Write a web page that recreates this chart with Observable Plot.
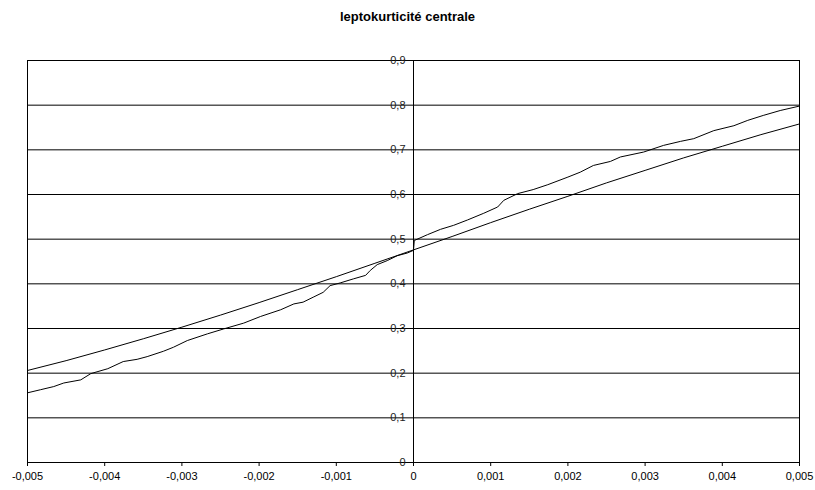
<!DOCTYPE html>
<html>
<head>
<meta charset="utf-8">
<script src="https://cdn.jsdelivr.net/npm/d3@7"></script>
<script src="https://cdn.jsdelivr.net/npm/@observablehq/plot@0.6"></script>
<style>
  body { margin: 0; background: #fff; font-family: "Liberation Sans", Arial, sans-serif; }
  #title { height: 40px; line-height: 34px; text-align: center; font-weight: bold; font-size: 13px; color: #000; }
</style>
</head>
<body>
<div id="title">leptokurticité centrale</div>
<div id="chart"></div>
<script>
// Fitted normal distribution function (smooth curve)
const normX = [-0.005, -0.0045, -0.004, -0.0035, -0.003, -0.0025, -0.002, -0.0015, -0.001, -0.0005,
  0, 0.0005, 0.001, 0.0015, 0.002, 0.0025, 0.003, 0.0035, 0.004, 0.0045, 0.005];
const normY = [0.206, 0.228, 0.252, 0.277, 0.303, 0.330, 0.358, 0.387, 0.416, 0.446,
  0.476, 0.506, 0.537, 0.567, 0.596, 0.626, 0.654, 0.682, 0.708, 0.734, 0.758];

// Empirical distribution function (jagged curve)
const empX = [-0.005, -0.00483, -0.00466, -0.00453, -0.00431, -0.00418, -0.00396, -0.00376, -0.00358, -0.00345,
  -0.00324, -0.00311, -0.00293, -0.00267, -0.00246, -0.0022, -0.00198, -0.00172, -0.00155, -0.00143,
  -0.0013, -0.00117, -0.00108, -0.00095, -0.00078, -0.00062, -0.00056, -0.00047, -0.00034, -0.00021,
  -0.00008, 0, 0.00001, 0.00018, 0.00035, 0.00052, 0.0007, 0.00091, 0.00109, 0.00117,
  0.00135, 0.00155, 0.00174, 0.002, 0.00216, 0.00233, 0.00255, 0.00268, 0.00298, 0.00324,
  0.00346, 0.00363, 0.00389, 0.00415, 0.00433, 0.00453, 0.00475, 0.005];
const empY = [0.156, 0.163, 0.170, 0.178, 0.185, 0.199, 0.210, 0.226, 0.231, 0.237,
  0.249, 0.258, 0.273, 0.288, 0.299, 0.312, 0.327, 0.342, 0.355, 0.359,
  0.370, 0.381, 0.396, 0.402, 0.411, 0.419, 0.430, 0.443, 0.452, 0.463,
  0.469, 0.475, 0.497, 0.510, 0.522, 0.531, 0.543, 0.558, 0.572, 0.587,
  0.602, 0.611, 0.622, 0.639, 0.650, 0.665, 0.674, 0.684, 0.695, 0.710,
  0.719, 0.725, 0.743, 0.754, 0.766, 0.777, 0.788, 0.798];

const yTicks = [0, 0.1, 0.2, 0.3, 0.4, 0.5, 0.6, 0.7, 0.8, 0.9];
const xTicks = [-0.005, -0.004, -0.003, -0.002, -0.001, 0, 0.001, 0.002, 0.003, 0.004, 0.005];

const norm = normX.map((x, i) => ({x, y: normY[i]}));
const emp = empX.map((x, i) => ({x, y: empY[i]}));

// Comma decimal separator and ASCII hyphen for negatives
const fr = d3.formatLocale({decimal: ",", thousands: " ", grouping: [3], currency: ["", " €"], minus: "-"});
const fmt = d => d === 0 ? "0" : fr.format("~g")(+d.toFixed(4));

const chart = Plot.plot({
  width: 815,
  height: 450,
  marginTop: 20,
  marginBottom: 28,
  marginLeft: 27,
  marginRight: 16,
  style: {fontFamily: "'Liberation Sans', Arial, sans-serif", fontSize: "11px", color: "#000", background: "#fff"},
  x: {domain: [-0.005, 0.005], ticks: xTicks, tickFormat: fmt, label: null},
  y: {domain: [0, 0.9], axis: null},
  marks: [
    Plot.ruleY(yTicks, {stroke: "#000", strokeWidth: 1}),
    Plot.frame({stroke: "#000"}),
    Plot.ruleX([0], {stroke: "#000"}),
    Plot.text(yTicks, {x: 0, y: d => d, text: d => fmt(d), textAnchor: "end", dx: -8, fill: "#222", fontSize: 11}),
    Plot.axisX({ticks: xTicks, tickFormat: fmt, tickSize: 4, tickPadding: 6, fontSize: 11, stroke: "#000", label: null}),
    Plot.line(norm, {x: "x", y: "y", stroke: "#000", strokeWidth: 1}),
    Plot.line(emp, {x: "x", y: "y", stroke: "#000", strokeWidth: 1})
  ]
});
document.getElementById("chart").appendChild(chart);
</script>
</body>
</html>
